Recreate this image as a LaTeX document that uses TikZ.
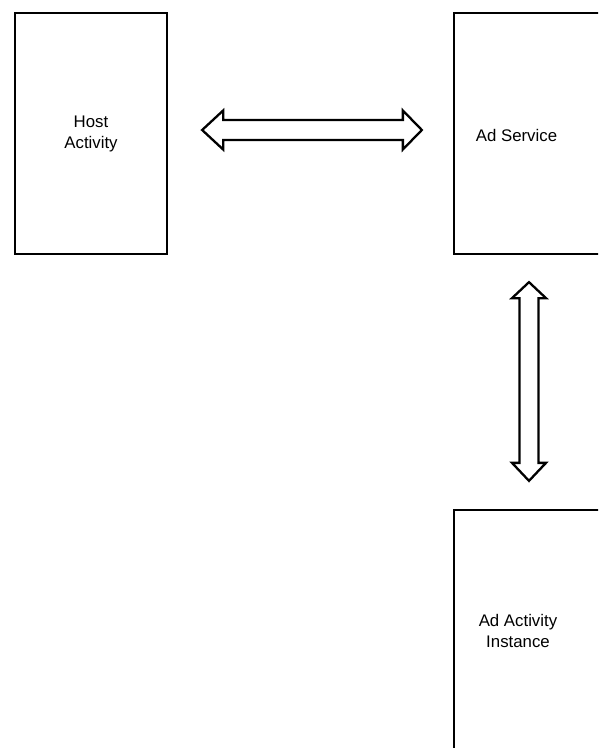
\documentclass[tikz,border=0pt]{standalone}
\usepackage{fontspec}
\setmainfont{Liberation Sans}
\usetikzlibrary{calc}
\begin{document}
\begin{tikzpicture}[x=1pt,y=-1pt,
  block/.style={draw=black,line width=2.3pt,rectangle,minimum width=152pt,minimum height=241pt,inner sep=0pt},
  caption/.style={font=\fontsize{16.8pt}{21.5pt}\selectfont,align=center,inner sep=0pt},
  dblarrow/.style={draw=black,line width=2.3pt,line join=miter,fill=white}]
  \useasboundingbox (0,0) rectangle (598,748);
  \clip (0,0) rectangle (598,748);
  % components
  \node[block] (host) at (91,133.5) {};
  \node[block] (service) at (530,133.5) {};
  \node[block] (instance) at (530,630.5) {};
  \node[caption] (hostlbl) at (91,134) {Host\\Activity};
  \node[caption] (servicelbl) at (516.5,135) {Ad Service};
  \node[caption] (instancelbl) at (518,631) {Ad Activity\\Instance};
  % ends of the two-way arrows
  \coordinate (hL) at ($(host.east)+(34,-3.5)$);
  \coordinate (hR) at ($(service.west)+(-31,-3.5)$);
  \coordinate (vT) at ($(service.south)+(-1,27)$);
  \coordinate (vB) at ($(instance.north)+(-1,-28)$);
  % host <-> service
  \draw[dblarrow] (hL) -- ++(21,-19.5) -- ++(0,9.5) -- ($(hR)+(-19,-10)$) -- ++(0,-9.5)
    -- (hR) -- ++(-19,19.5) -- ++(0,-9.5) -- ($(hL)+(21,10)$) -- ++(0,9.5) -- cycle;
  % service <-> instance
  \draw[dblarrow] (vT) -- ++(17,16) -- ++(-7.5,0) -- ($(vB)+(9.5,-18)$) -- ++(7.5,0)
    -- (vB) -- ++(-17,-18) -- ++(7.5,0) -- ($(vT)+(-9.5,16)$) -- ++(-7.5,0) -- cycle;
\end{tikzpicture}
\end{document}
